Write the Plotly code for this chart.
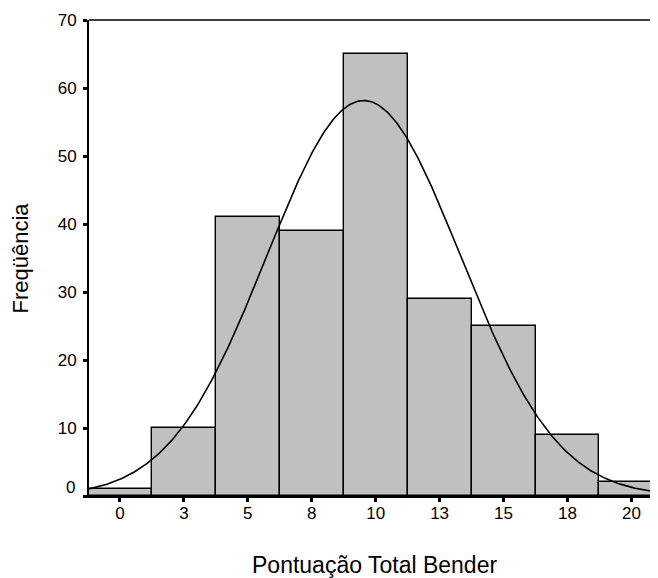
import numpy as np
import plotly.graph_objects as go

# Histogram data (bin centres, bin width 2.5)
bin_centers = [0, 2.5, 5, 7.5, 10, 12.5, 15, 17.5, 20]
counts = [1, 10, 41, 39, 65, 29, 25, 9, 2]
bin_width = 2.5

x_tick_vals = [0, 2.5, 5, 7.5, 10, 12.5, 15, 17.5, 20]
x_tick_text = ["0", "3", "5", "8", "10", "13", "15", "18", "20"]
y_tick_vals = [0, 10, 20, 30, 40, 50, 60, 70]
y_tick_text = ["", "10", "20", "30", "40", "50", "60", "70"]

# Normal curve parameters (fitted to the data)
curve_mean = 9.53
curve_sd = 3.79

x_range = [-1.21, 21.04]
y_range = [0, 70]

n_total = sum(counts)
xs = np.linspace(x_range[0], x_range[1], 400)
ys = n_total * bin_width / (curve_sd * np.sqrt(2 * np.pi)) * np.exp(-0.5 * ((xs - curve_mean) / curve_sd) ** 2)

FONT = "Liberation Sans, Arial, sans-serif"

# page has an 8px body margin, so the figure is 650x570 offset by 8px
OFF = 8
W, H = 650, 570
ML, MT, MB = 89 - OFF, 20 - OFF, 578 - 496
PW = W - ML
PH = H - MT - MB

fig = go.Figure()
fig.add_trace(go.Bar(
    x=bin_centers, y=counts, width=bin_width,
    marker=dict(color="#C0C0C0", line=dict(color="black", width=1.4)),
    showlegend=False, hoverinfo="x+y",
))
fig.add_trace(go.Scatter(
    x=xs, y=ys, mode="lines",
    line=dict(color="black", width=1.6),
    showlegend=False, hoverinfo="skip",
))

fig.update_layout(
    width=W, height=H,
    margin=dict(l=ML, r=0, t=MT, b=MB, autoexpand=False),
    plot_bgcolor="white", paper_bgcolor="white",
    font=dict(family=FONT, size=17, color="black"),
    bargap=0,
    xaxis=dict(
        range=x_range, tickvals=x_tick_vals, ticktext=x_tick_text,
        showgrid=False, zeroline=False, showline=True, linecolor="black", linewidth=2,
        ticks="outside", ticklen=4, tickwidth=3, tickcolor="black",
        tickfont=dict(family=FONT, size=17), ticklabelstandoff=-3,
    ),
    yaxis=dict(
        range=y_range, tickvals=y_tick_vals, ticktext=y_tick_text,
        showgrid=False, zeroline=False, showline=True, linecolor="black", linewidth=2,
        ticks="outside", ticklen=4, tickwidth=3, tickcolor="black",
        tickfont=dict(family=FONT, size=17), ticklabelstandoff=3,
    ),
    shapes=[dict(type="line", xref="paper", yref="paper", x0=0, x1=1, y0=1, y1=1,
                 line=dict(color="black", width=1.3))],
    annotations=[
        dict(text="0", xref="paper", yref="y", x=0, y=0, xanchor="right", yanchor="middle",
             xshift=-12, yshift=9, showarrow=False, font=dict(family=FONT, size=17)),
        dict(text="Freqüência", xref="paper", yref="paper", x=(19.5 - 89) / PW, y=0.5,
             xanchor="center", yanchor="middle", textangle=-90, showarrow=False,
             font=dict(family=FONT, size=22)),
        dict(text="Pontuação Total Bender", xref="paper", yref="paper", x=(374 - 89) / PW,
             y=(496 - 565) / PH, xanchor="center", yanchor="middle", showarrow=False,
             font=dict(family=FONT, size=23)),
    ],
)

fig.write_html("out.html")
